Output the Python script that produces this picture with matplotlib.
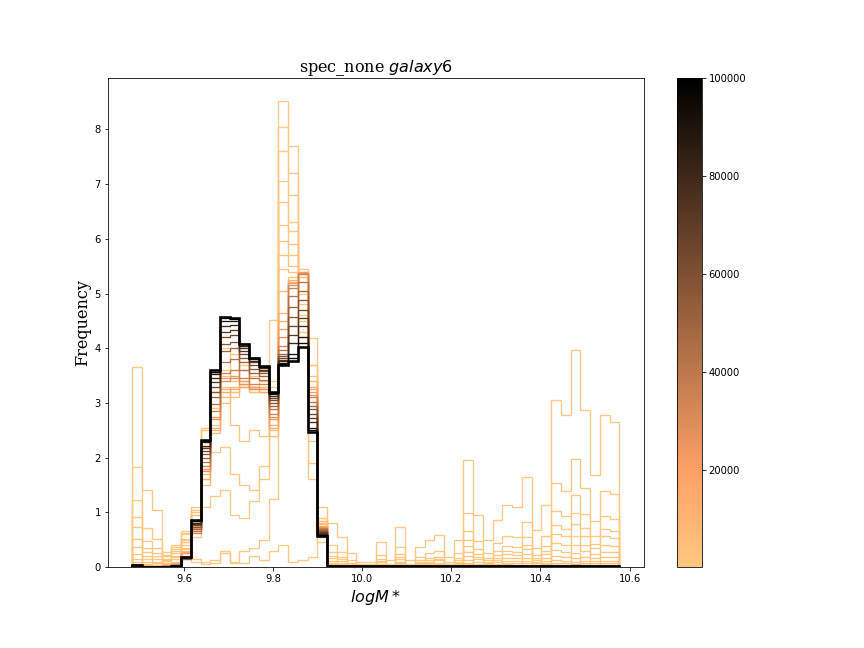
import numpy as np
import matplotlib
matplotlib.use('Agg')
import matplotlib.pyplot as plt
from matplotlib.colors import Normalize
from matplotlib.cm import ScalarMappable

# 50 bins of logM*, shared by every snapshot
bin_lo = 9.484
bin_hi = 10.577
n_bins = 50

# histogram (density) of the chain read at each iteration
h100 = [3.65, 1.41, 1.04, 0.22, 0.37, 0.65, 0.10, 0.05, 0.08, 0.30, 0.07, 0.07, 0.20, 0.12, 0.30, 0.40, 0.10, 0.12, 0.18, 0.89,
        0.80, 0.54, 0.25, 0.09, 0.09, 0.45, 0.12, 0.73, 0.12, 0.36, 0.49, 0.58, 0.18, 0.49, 1.96, 0.95, 0.49, 0.86, 1.14, 1.09,
        1.64, 0.67, 1.14, 3.05, 2.78, 3.97, 2.87, 1.68, 2.78, 2.65]
h200 = [1.82, 0.71, 0.52, 0.11, 0.19, 0.33, 0.15, 0.10, 0.12, 0.25, 0.10, 0.30, 0.35, 0.50, 1.25, 8.52, 7.70, 5.44, 1.90, 0.45,
        0.40, 0.27, 0.12, 0.05, 0.05, 0.22, 0.06, 0.36, 0.06, 0.18, 0.25, 0.29, 0.09, 0.25, 0.98, 0.48, 0.25, 0.43, 0.57, 0.55,
        0.82, 0.34, 0.57, 1.53, 1.39, 1.98, 1.44, 0.84, 1.39, 1.33]
h300 = [1.22, 0.47, 0.35, 0.15, 0.25, 0.45, 0.55, 1.10, 1.30, 1.40, 0.95, 0.90, 1.20, 1.85, 4.52, 8.05, 7.20, 4.20, 1.60, 0.55,
        0.27, 0.18, 0.08, 0.03, 0.03, 0.15, 0.04, 0.24, 0.04, 0.12, 0.16, 0.19, 0.06, 0.16, 0.65, 0.32, 0.16, 0.29, 0.38, 0.36,
        0.55, 0.22, 0.38, 1.02, 0.93, 1.32, 0.96, 0.56, 0.93, 0.88]
h400 = [0.91, 0.35, 0.26, 0.20, 0.30, 0.50, 0.80, 1.60, 2.10, 2.20, 1.70, 1.50, 1.40, 1.60, 3.40, 7.60, 6.80, 4.80, 2.30, 0.75,
        0.20, 0.14, 0.06, 0.02, 0.02, 0.11, 0.03, 0.18, 0.03, 0.09, 0.12, 0.15, 0.05, 0.12, 0.49, 0.24, 0.12, 0.22, 0.29, 0.27,
        0.41, 0.17, 0.29, 0.76, 0.70, 0.99, 0.72, 0.42, 0.70, 0.66]
h500 = [0.73, 0.28, 0.21, 0.22, 0.32, 0.52, 0.95, 2.20, 2.90, 3.20, 2.60, 2.30, 2.50, 2.40, 2.70, 7.05, 6.30, 4.50, 4.19, 0.80,
        0.16, 0.11, 0.05, 0.02, 0.02, 0.09, 0.02, 0.15, 0.02, 0.07, 0.10, 0.12, 0.04, 0.10, 0.39, 0.19, 0.10, 0.17, 0.23, 0.22,
        0.33, 0.13, 0.23, 0.61, 0.56, 0.79, 0.57, 0.34, 0.56, 0.53]
h700 = [0.52, 0.20, 0.15, 0.28, 0.40, 0.62, 1.00, 2.55, 3.55, 4.00, 3.40, 4.10, 3.20, 3.20, 2.40, 6.68, 6.15, 4.30, 3.70, 0.85,
        0.11, 0.08, 0.04, 0.01, 0.01, 0.06, 0.02, 0.10, 0.02, 0.05, 0.07, 0.08, 0.03, 0.07, 0.28, 0.14, 0.07, 0.12, 0.16, 0.16,
        0.23, 0.10, 0.16, 0.44, 0.40, 0.57, 0.41, 0.24, 0.40, 0.38]
h1000 = [0.37, 0.14, 0.10, 0.20, 0.30, 0.60, 1.00, 2.50, 3.20, 3.60, 3.90, 3.40, 3.80, 3.50, 3.30, 6.26, 5.90, 4.60, 3.30, 1.10,
         0.08, 0.05, 0.03, 0.01, 0.01, 0.05, 0.01, 0.07, 0.01, 0.04, 0.05, 0.06, 0.02, 0.05, 0.20, 0.10, 0.05, 0.09, 0.11, 0.11,
         0.16, 0.07, 0.11, 0.31, 0.28, 0.40, 0.29, 0.17, 0.28, 0.27]
h1500 = [0.24, 0.09, 0.07, 0.12, 0.20, 0.45, 1.05, 2.30, 2.90, 3.50, 3.60, 3.70, 3.50, 3.40, 3.00, 5.96, 5.70, 5.00, 3.40, 0.90,
         0.05, 0.04, 0.02, 0.01, 0.01, 0.03, 0.01, 0.05, 0.01, 0.02, 0.03, 0.04, 0.01, 0.03, 0.13, 0.06, 0.03, 0.06, 0.08, 0.07,
         0.11, 0.04, 0.08, 0.20, 0.19, 0.26, 0.19, 0.11, 0.19, 0.18]
h2500 = [0.15, 0.06, 0.04, 0.08, 0.15, 0.40, 1.10, 2.50, 3.20, 3.30, 3.20, 3.60, 3.30, 3.20, 2.60, 5.70, 5.50, 5.30, 3.70, 0.80,
         0.03, 0.02, 0.01, 0.00, 0.00, 0.02, 0.00, 0.03, 0.00, 0.01, 0.02, 0.02, 0.01, 0.02, 0.08, 0.04, 0.02, 0.03, 0.05, 0.04,
         0.07, 0.03, 0.05, 0.12, 0.11, 0.16, 0.11, 0.07, 0.11, 0.11]
h4000 = [0.09, 0.04, 0.03, 0.05, 0.10, 0.35, 0.95, 1.80, 2.60, 3.00, 3.10, 3.30, 3.20, 3.30, 2.40, 5.44, 5.40, 5.30, 3.50, 0.85,
         0.02, 0.01, 0.01, 0.00, 0.00, 0.01, 0.00, 0.02, 0.00, 0.01, 0.01, 0.01, 0.00, 0.01, 0.05, 0.02, 0.01, 0.02, 0.03, 0.03,
         0.04, 0.02, 0.03, 0.08, 0.07, 0.10, 0.07, 0.04, 0.07, 0.07]
h7000 = [0.05, 0.02, 0.01, 0.03, 0.08, 0.30, 0.80, 1.50, 2.45, 3.10, 3.20, 3.30, 3.30, 3.40, 2.50, 5.04, 5.30, 5.35, 3.40, 0.78,
         0.01, 0.01, 0.00, 0.00, 0.00, 0.01, 0.00, 0.01, 0.00, 0.01, 0.01, 0.01, 0.00, 0.01, 0.03, 0.01, 0.01, 0.01, 0.02, 0.02,
         0.02, 0.01, 0.02, 0.04, 0.04, 0.06, 0.04, 0.02, 0.04, 0.04]
h12000 = [0.03, 0.01, 0.01, 0.03, 0.06, 0.28, 0.75, 1.70, 2.55, 3.25, 3.30, 3.35, 3.30, 3.30, 2.60, 4.65, 5.25, 5.38, 3.30, 0.75,
          0.01, 0.01, 0.00, 0.00, 0.00, 0.01, 0.00, 0.01, 0.00, 0.00, 0.01, 0.01, 0.00, 0.01, 0.02, 0.01, 0.01, 0.01, 0.01, 0.01,
          0.02, 0.01, 0.01, 0.03, 0.03, 0.04, 0.03, 0.02, 0.03, 0.03]
h16000 = [0.03, 0.01, 0.01, 0.02, 0.05, 0.26, 0.72, 1.60, 2.50, 3.20, 3.25, 3.30, 3.25, 3.20, 2.55, 4.50, 5.22, 5.40, 3.25, 0.74,
          0.01, 0.01, 0.00, 0.00, 0.00, 0.01, 0.00, 0.01, 0.00, 0.00, 0.01, 0.01, 0.00, 0.01, 0.02, 0.01, 0.01, 0.01, 0.01, 0.01,
          0.02, 0.01, 0.01, 0.03, 0.02, 0.03, 0.03, 0.02, 0.02, 0.02]
h22000 = [0.02, 0.01, 0.00, 0.02, 0.05, 0.25, 0.70, 1.80, 2.75, 3.45, 3.50, 3.40, 3.30, 3.25, 2.70, 4.35, 5.20, 5.40, 3.20, 0.73,
          0.01, 0.01, 0.00, 0.00, 0.00, 0.01, 0.00, 0.01, 0.00, 0.00, 0.01, 0.01, 0.00, 0.01, 0.02, 0.01, 0.01, 0.01, 0.01, 0.01,
          0.02, 0.01, 0.01, 0.02, 0.02, 0.03, 0.02, 0.02, 0.02, 0.02]
h28000 = [0.02, 0.00, 0.00, 0.02, 0.04, 0.20, 0.66, 1.75, 2.70, 3.40, 3.45, 3.35, 3.25, 3.25, 2.75, 4.20, 5.15, 5.38, 3.15, 0.72,
          0.01, 0.01, 0.01, 0.01, 0.01, 0.01, 0.01, 0.01, 0.01, 0.01, 0.01, 0.01, 0.01, 0.01, 0.02, 0.01, 0.01, 0.01, 0.01, 0.01,
          0.02, 0.01, 0.01, 0.02, 0.02, 0.03, 0.02, 0.02, 0.02, 0.02]
h35000 = [0.02, 0.00, 0.00, 0.02, 0.04, 0.15, 0.62, 1.85, 2.85, 3.55, 3.60, 3.45, 3.35, 3.35, 2.80, 4.04, 5.10, 5.35, 3.10, 0.72,
          0.01, 0.01, 0.01, 0.01, 0.01, 0.01, 0.01, 0.01, 0.01, 0.01, 0.01, 0.01, 0.01, 0.01, 0.02, 0.01, 0.01, 0.01, 0.01, 0.01,
          0.02, 0.01, 0.01, 0.02, 0.02, 0.03, 0.02, 0.02, 0.02, 0.02]
h42000 = [0.02, 0.00, 0.00, 0.02, 0.03, 0.15, 0.66, 1.92, 2.98, 3.75, 3.80, 3.60, 3.45, 3.42, 2.88, 3.97, 4.95, 5.22, 3.02, 0.70,
          0.01, 0.01, 0.01, 0.01, 0.01, 0.01, 0.01, 0.01, 0.01, 0.01, 0.01, 0.01, 0.01, 0.01, 0.02, 0.01, 0.01, 0.01, 0.01, 0.01,
          0.02, 0.01, 0.01, 0.02, 0.02, 0.02, 0.02, 0.02, 0.02, 0.02]
h50000 = [0.02, 0.00, 0.00, 0.01, 0.03, 0.16, 0.70, 2.00, 3.10, 3.95, 4.00, 3.75, 3.55, 3.50, 2.95, 3.90, 4.75, 5.05, 2.95, 0.68,
          0.01, 0.01, 0.01, 0.01, 0.01, 0.01, 0.01, 0.01, 0.01, 0.01, 0.01, 0.01, 0.01, 0.01, 0.02, 0.01, 0.01, 0.01, 0.01, 0.01,
          0.02, 0.01, 0.01, 0.02, 0.02, 0.02, 0.02, 0.02, 0.02, 0.02]
h57000 = [0.02, 0.00, 0.00, 0.00, 0.02, 0.16, 0.73, 2.06, 3.20, 4.08, 4.12, 3.82, 3.62, 3.54, 3.00, 3.86, 4.58, 4.88, 2.88, 0.66,
          0.01, 0.01, 0.01, 0.01, 0.01, 0.01, 0.01, 0.01, 0.01, 0.01, 0.01, 0.01, 0.01, 0.01, 0.01, 0.01, 0.01, 0.01, 0.01, 0.01,
          0.01, 0.01, 0.01, 0.02, 0.02, 0.02, 0.02, 0.02, 0.02, 0.02]
h65000 = [0.03, 0.00, 0.00, 0.00, 0.02, 0.17, 0.76, 2.12, 3.30, 4.20, 4.25, 3.90, 3.70, 3.58, 3.05, 3.82, 4.40, 4.70, 2.80, 0.64,
          0.01, 0.01, 0.01, 0.01, 0.01, 0.01, 0.01, 0.01, 0.01, 0.01, 0.01, 0.01, 0.01, 0.01, 0.01, 0.01, 0.01, 0.01, 0.01, 0.01,
          0.01, 0.01, 0.01, 0.02, 0.02, 0.02, 0.02, 0.02, 0.02, 0.02]
h72000 = [0.03, 0.00, 0.00, 0.00, 0.02, 0.17, 0.79, 2.18, 3.38, 4.30, 4.33, 3.95, 3.74, 3.60, 3.09, 3.79, 4.25, 4.55, 2.72, 0.62,
          0.01, 0.01, 0.01, 0.01, 0.01, 0.01, 0.01, 0.01, 0.01, 0.01, 0.01, 0.01, 0.01, 0.01, 0.01, 0.01, 0.01, 0.01, 0.01, 0.01,
          0.01, 0.01, 0.01, 0.02, 0.02, 0.02, 0.02, 0.02, 0.02, 0.02]
h80000 = [0.03, 0.00, 0.00, 0.00, 0.02, 0.17, 0.81, 2.22, 3.45, 4.40, 4.42, 4.00, 3.77, 3.63, 3.12, 3.76, 4.10, 4.40, 2.65, 0.60,
          0.01, 0.01, 0.01, 0.01, 0.01, 0.01, 0.01, 0.01, 0.01, 0.01, 0.01, 0.01, 0.01, 0.01, 0.01, 0.01, 0.01, 0.01, 0.01, 0.01,
          0.01, 0.01, 0.01, 0.02, 0.02, 0.02, 0.02, 0.02, 0.02, 0.02]
h90000 = [0.03, 0.00, 0.00, 0.00, 0.02, 0.18, 0.84, 2.28, 3.53, 4.50, 4.50, 4.05, 3.80, 3.66, 3.17, 3.73, 3.90, 4.20, 2.55, 0.58,
          0.01, 0.01, 0.01, 0.01, 0.01, 0.01, 0.01, 0.01, 0.01, 0.01, 0.01, 0.01, 0.01, 0.01, 0.01, 0.01, 0.01, 0.01, 0.01, 0.01,
          0.01, 0.01, 0.01, 0.02, 0.02, 0.02, 0.02, 0.02, 0.02, 0.02]
h95000 = [0.03, 0.00, 0.00, 0.00, 0.02, 0.18, 0.85, 2.31, 3.57, 4.55, 4.53, 4.07, 3.82, 3.67, 3.19, 3.71, 3.82, 4.10, 2.50, 0.57,
          0.01, 0.01, 0.01, 0.01, 0.01, 0.01, 0.01, 0.01, 0.01, 0.01, 0.01, 0.01, 0.01, 0.01, 0.01, 0.01, 0.01, 0.01, 0.01, 0.01,
          0.01, 0.01, 0.01, 0.02, 0.02, 0.02, 0.02, 0.02, 0.02, 0.02]
h100000 = [0.03, 0.00, 0.00, 0.00, 0.02, 0.18, 0.86, 2.33, 3.60, 4.58, 4.55, 4.08, 3.83, 3.68, 3.20, 3.70, 3.76, 4.02, 2.47, 0.56,
           0.01, 0.01, 0.01, 0.01, 0.01, 0.01, 0.01, 0.01, 0.01, 0.01, 0.01, 0.01, 0.01, 0.01, 0.01, 0.01, 0.01, 0.01, 0.01, 0.01,
           0.01, 0.01, 0.01, 0.02, 0.02, 0.02, 0.02, 0.02, 0.02, 0.02]

iterations = [100, 200, 300, 400, 500, 700, 1000, 1500, 2500, 4000, 7000,
              12000, 16000, 22000, 28000, 35000, 42000, 50000, 57000, 65000,
              72000, 80000, 90000, 95000, 100000]
snapshots = [h100, h200, h300, h400, h500, h700, h1000, h1500, h2500, h4000, h7000,
             h12000, h16000, h22000, h28000, h35000, h42000, h50000, h57000, h65000,
             h72000, h80000, h90000, h95000, h100000]

edges = np.linspace(bin_lo, bin_hi, n_bins + 1)
cmap = plt.get_cmap('copper_r')
norm = Normalize(vmin=100, vmax=100000)

fig, ax = plt.subplots(figsize=(12, 9), dpi=72)
fig.subplots_adjust(left=0.125, right=0.9, bottom=0.125, top=0.88)

for it, h in zip(iterations, snapshots):
    lw = 2.6 if it == iterations[-1] else 1.3
    ax.stairs(h, edges, baseline=0, color=cmap(norm(it)), lw=lw)

ax.set_ylim(bottom=0)
ax.set_title('spec_none $galaxy6$', family='serif', fontsize=16)
ax.set_xlabel('$logM*$', fontsize=16)
ax.set_ylabel('Frequency', family='serif', fontsize=16)

sm = ScalarMappable(norm=norm, cmap=cmap)
fig.colorbar(sm, ax=ax)

fig.savefig('out.png', dpi=72)
